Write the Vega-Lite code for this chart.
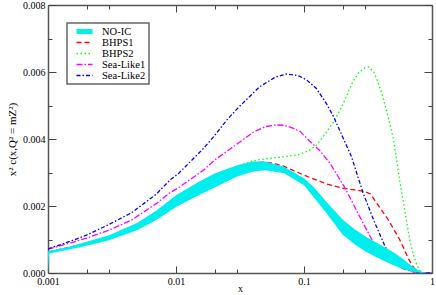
{
  "$schema": "https://vega.github.io/schema/vega-lite/v6.json",
  "width": 384,
  "height": 268,
  "autosize": "none",
  "padding": {"left": 48, "top": 5, "right": 4, "bottom": 22},
  "background": "white",
  "config": {
    "font": "Liberation Serif",
    "view": {"stroke": null},
    "axis": {
      "grid": false,
      "domainColor": "#555",
      "domainWidth": 1.5,
      "tickColor": "#444",
      "tickWidth": 1,
      "labelFont": "Liberation Serif",
      "labelFontSize": 10,
      "labelColor": "black",
      "labelFlush": false,
      "labelOverlap": false,
      "labelBound": false,
      "titleFont": "Liberation Serif",
      "titleFontSize": 10,
      "titleFontWeight": "normal",
      "titleColor": "black"
    },
    "legend": {"strokeWidth": 1.5}
  },
  "datasets": {
    "band": [
      {"x": 0.001, "lo": 0, "hi": 0.00065},
      {"x": 0.00102, "lo": 0.00058, "hi": 0.00066},
      {"x": 0.0015, "lo": 0.00071, "hi": 0.0008},
      {"x": 0.002, "lo": 0.00081, "hi": 0.00093},
      {"x": 0.003, "lo": 0.00098, "hi": 0.00113},
      {"x": 0.005, "lo": 0.00128, "hi": 0.0015},
      {"x": 0.007, "lo": 0.00158, "hi": 0.00186},
      {"x": 0.01, "lo": 0.00197, "hi": 0.00232},
      {"x": 0.015, "lo": 0.00232, "hi": 0.00272},
      {"x": 0.02, "lo": 0.00255, "hi": 0.00297},
      {"x": 0.03, "lo": 0.00288, "hi": 0.00322},
      {"x": 0.04, "lo": 0.00303, "hi": 0.00333},
      {"x": 0.05, "lo": 0.00307, "hi": 0.00333},
      {"x": 0.07, "lo": 0.00298, "hi": 0.00317},
      {"x": 0.1, "lo": 0.00262, "hi": 0.00283},
      {"x": 0.12, "lo": 0.00225, "hi": 0.00255},
      {"x": 0.15, "lo": 0.00178, "hi": 0.00212},
      {"x": 0.2, "lo": 0.00115, "hi": 0.0016},
      {"x": 0.25, "lo": 0.00085, "hi": 0.0013},
      {"x": 0.3, "lo": 0.00065, "hi": 0.0011},
      {"x": 0.4, "lo": 0.0004, "hi": 0.00083},
      {"x": 0.5, "lo": 0.00023, "hi": 0.00062},
      {"x": 0.6, "lo": 0.00011, "hi": 0.0004},
      {"x": 0.7, "lo": 0.00004, "hi": 0.0002},
      {"x": 0.8, "lo": 0.00001, "hi": 0.00006},
      {"x": 0.9, "lo": 0, "hi": 0.00001},
      {"x": 1, "lo": 0, "hi": 0}
    ],
    "curves": [
      {"series": "BHPS1", "x": 0.001, "y": 0.00063},
      {"series": "BHPS1", "x": 0.0015, "y": 0.00077},
      {"series": "BHPS1", "x": 0.002, "y": 0.00089},
      {"series": "BHPS1", "x": 0.003, "y": 0.00108},
      {"series": "BHPS1", "x": 0.005, "y": 0.00143},
      {"series": "BHPS1", "x": 0.007, "y": 0.00176},
      {"series": "BHPS1", "x": 0.01, "y": 0.00222},
      {"series": "BHPS1", "x": 0.015, "y": 0.00263},
      {"series": "BHPS1", "x": 0.02, "y": 0.00288},
      {"series": "BHPS1", "x": 0.03, "y": 0.00317},
      {"series": "BHPS1", "x": 0.04, "y": 0.00329},
      {"series": "BHPS1", "x": 0.05, "y": 0.00331},
      {"series": "BHPS1", "x": 0.06, "y": 0.00326},
      {"series": "BHPS1", "x": 0.07, "y": 0.00318},
      {"series": "BHPS1", "x": 0.1, "y": 0.00292},
      {"series": "BHPS1", "x": 0.15, "y": 0.00266},
      {"series": "BHPS1", "x": 0.2, "y": 0.00253},
      {"series": "BHPS1", "x": 0.25, "y": 0.00248},
      {"series": "BHPS1", "x": 0.3, "y": 0.00243},
      {"series": "BHPS1", "x": 0.33, "y": 0.00236},
      {"series": "BHPS1", "x": 0.36, "y": 0.00215},
      {"series": "BHPS1", "x": 0.4, "y": 0.0019},
      {"series": "BHPS1", "x": 0.45, "y": 0.00162},
      {"series": "BHPS1", "x": 0.5, "y": 0.00132},
      {"series": "BHPS1", "x": 0.55, "y": 0.00105},
      {"series": "BHPS1", "x": 0.6, "y": 0.00075},
      {"series": "BHPS1", "x": 0.65, "y": 0.00045},
      {"series": "BHPS1", "x": 0.7, "y": 0.00022},
      {"series": "BHPS1", "x": 0.75, "y": 0.00008},
      {"series": "BHPS1", "x": 0.8, "y": 0.00002},
      {"series": "BHPS1", "x": 0.9, "y": 0},
      {"series": "BHPS1", "x": 1, "y": 0},
      {"series": "BHPS2", "x": 0.001, "y": 0.00063},
      {"series": "BHPS2", "x": 0.0015, "y": 0.00077},
      {"series": "BHPS2", "x": 0.002, "y": 0.00089},
      {"series": "BHPS2", "x": 0.003, "y": 0.00108},
      {"series": "BHPS2", "x": 0.005, "y": 0.00143},
      {"series": "BHPS2", "x": 0.007, "y": 0.00176},
      {"series": "BHPS2", "x": 0.01, "y": 0.00222},
      {"series": "BHPS2", "x": 0.015, "y": 0.00263},
      {"series": "BHPS2", "x": 0.02, "y": 0.00288},
      {"series": "BHPS2", "x": 0.03, "y": 0.00318},
      {"series": "BHPS2", "x": 0.04, "y": 0.00335},
      {"series": "BHPS2", "x": 0.05, "y": 0.00341},
      {"series": "BHPS2", "x": 0.07, "y": 0.00347},
      {"series": "BHPS2", "x": 0.09, "y": 0.00353},
      {"series": "BHPS2", "x": 0.11, "y": 0.00366},
      {"series": "BHPS2", "x": 0.125, "y": 0.00382},
      {"series": "BHPS2", "x": 0.14, "y": 0.00405},
      {"series": "BHPS2", "x": 0.17, "y": 0.0045},
      {"series": "BHPS2", "x": 0.2, "y": 0.00501},
      {"series": "BHPS2", "x": 0.24, "y": 0.0057},
      {"series": "BHPS2", "x": 0.27, "y": 0.006},
      {"series": "BHPS2", "x": 0.3, "y": 0.00613},
      {"series": "BHPS2", "x": 0.32, "y": 0.00615},
      {"series": "BHPS2", "x": 0.35, "y": 0.006},
      {"series": "BHPS2", "x": 0.37, "y": 0.0058},
      {"series": "BHPS2", "x": 0.41, "y": 0.00531},
      {"series": "BHPS2", "x": 0.45, "y": 0.00472},
      {"series": "BHPS2", "x": 0.5, "y": 0.004},
      {"series": "BHPS2", "x": 0.53, "y": 0.00335},
      {"series": "BHPS2", "x": 0.56, "y": 0.00275},
      {"series": "BHPS2", "x": 0.6, "y": 0.00208},
      {"series": "BHPS2", "x": 0.67, "y": 0.00099},
      {"series": "BHPS2", "x": 0.72, "y": 0.0005},
      {"series": "BHPS2", "x": 0.76, "y": 0.00025},
      {"series": "BHPS2", "x": 0.8, "y": 0.00008},
      {"series": "BHPS2", "x": 0.85, "y": 0.00001},
      {"series": "BHPS2", "x": 1, "y": 0},
      {"series": "Sea-Like1", "x": 0.001, "y": 0.00071},
      {"series": "Sea-Like1", "x": 0.0015, "y": 0.0009},
      {"series": "Sea-Like1", "x": 0.002, "y": 0.00104},
      {"series": "Sea-Like1", "x": 0.003, "y": 0.00128},
      {"series": "Sea-Like1", "x": 0.0045, "y": 0.00158},
      {"series": "Sea-Like1", "x": 0.007, "y": 0.00207},
      {"series": "Sea-Like1", "x": 0.009, "y": 0.0024},
      {"series": "Sea-Like1", "x": 0.0104, "y": 0.00254},
      {"series": "Sea-Like1", "x": 0.0164, "y": 0.00307},
      {"series": "Sea-Like1", "x": 0.02, "y": 0.00337},
      {"series": "Sea-Like1", "x": 0.03, "y": 0.00385},
      {"series": "Sea-Like1", "x": 0.04, "y": 0.0042},
      {"series": "Sea-Like1", "x": 0.05, "y": 0.00437},
      {"series": "Sea-Like1", "x": 0.06, "y": 0.00442},
      {"series": "Sea-Like1", "x": 0.07, "y": 0.00441},
      {"series": "Sea-Like1", "x": 0.08, "y": 0.00434},
      {"series": "Sea-Like1", "x": 0.093, "y": 0.00423},
      {"series": "Sea-Like1", "x": 0.11, "y": 0.00395},
      {"series": "Sea-Like1", "x": 0.133, "y": 0.00365},
      {"series": "Sea-Like1", "x": 0.16, "y": 0.00327},
      {"series": "Sea-Like1", "x": 0.21, "y": 0.00253},
      {"series": "Sea-Like1", "x": 0.26, "y": 0.00183},
      {"series": "Sea-Like1", "x": 0.33, "y": 0.00108},
      {"series": "Sea-Like1", "x": 0.36, "y": 0.00082},
      {"series": "Sea-Like1", "x": 0.4, "y": 0.0006},
      {"series": "Sea-Like1", "x": 0.5, "y": 0.0003},
      {"series": "Sea-Like1", "x": 0.6, "y": 0.00012},
      {"series": "Sea-Like1", "x": 0.7, "y": 0.00004},
      {"series": "Sea-Like1", "x": 0.8, "y": 0.00001},
      {"series": "Sea-Like1", "x": 1, "y": 0},
      {"series": "Sea-Like2", "x": 0.001, "y": 0.00072},
      {"series": "Sea-Like2", "x": 0.0015, "y": 0.00095},
      {"series": "Sea-Like2", "x": 0.002, "y": 0.00113},
      {"series": "Sea-Like2", "x": 0.003, "y": 0.00145},
      {"series": "Sea-Like2", "x": 0.0045, "y": 0.0018},
      {"series": "Sea-Like2", "x": 0.007, "y": 0.00235},
      {"series": "Sea-Like2", "x": 0.009, "y": 0.00278},
      {"series": "Sea-Like2", "x": 0.0104, "y": 0.00296},
      {"series": "Sea-Like2", "x": 0.0137, "y": 0.00342},
      {"series": "Sea-Like2", "x": 0.0164, "y": 0.00372},
      {"series": "Sea-Like2", "x": 0.02, "y": 0.0041},
      {"series": "Sea-Like2", "x": 0.025, "y": 0.00457},
      {"series": "Sea-Like2", "x": 0.03, "y": 0.0049},
      {"series": "Sea-Like2", "x": 0.045, "y": 0.00556},
      {"series": "Sea-Like2", "x": 0.06, "y": 0.00585},
      {"series": "Sea-Like2", "x": 0.073, "y": 0.00594},
      {"series": "Sea-Like2", "x": 0.085, "y": 0.00591},
      {"series": "Sea-Like2", "x": 0.093, "y": 0.00587},
      {"series": "Sea-Like2", "x": 0.105, "y": 0.00576},
      {"series": "Sea-Like2", "x": 0.125, "y": 0.00551},
      {"series": "Sea-Like2", "x": 0.15, "y": 0.00505},
      {"series": "Sea-Like2", "x": 0.17, "y": 0.00467},
      {"series": "Sea-Like2", "x": 0.2, "y": 0.00407},
      {"series": "Sea-Like2", "x": 0.235, "y": 0.00347},
      {"series": "Sea-Like2", "x": 0.29, "y": 0.00238},
      {"series": "Sea-Like2", "x": 0.35, "y": 0.00158},
      {"series": "Sea-Like2", "x": 0.43, "y": 0.00079},
      {"series": "Sea-Like2", "x": 0.5, "y": 0.0004},
      {"series": "Sea-Like2", "x": 0.6, "y": 0.00015},
      {"series": "Sea-Like2", "x": 0.7, "y": 0.00005},
      {"series": "Sea-Like2", "x": 0.8, "y": 0.00001},
      {"series": "Sea-Like2", "x": 1, "y": 0}
    ]
  },
  "layer": [
    {
      "data": {"name": "curves"},
      "mark": {"type": "line", "clip": true},
      "encoding": {
        "x": {"field": "x", "type": "quantitative",
          "scale": {"type": "log", "domain": [0.001, 1], "nice": false},
          "axis": {"orient": "bottom", "values": [0.001, 0.01, 0.1, 1], "format": "~g", "tickSize": -7, "labelPadding": 10, "title": "x", "titlePadding": -3}},
        "y": {"field": "y", "type": "quantitative",
          "scale": {"domain": [0, 0.008], "nice": false, "zero": false},
          "axis": {"orient": "left", "values": [0, 0.002, 0.004, 0.006, 0.008], "format": ".3f", "tickSize": -8, "labelPadding": 11, "title": "x² c(x,Q² = mZ²)", "titleFontSize": 11, "titlePadding": 5}},
        "color": {"field": "series", "type": "nominal",
          "scale": {"domain": ["NO-IC", "BHPS1", "BHPS2", "Sea-Like1", "Sea-Like2"], "range": ["#00eeee", "#ff0000", "#00ff00", "#ff00ff", "#0000ff"]},
          "legend": {"title": null, "orient": "none", "legendX": 19, "legendY": 18, "symbolType": "stroke", "symbolSize": 256, "symbolOffset": 4, "labelFont": "Liberation Serif", "labelFontSize": 10.5, "labelColor": "black", "labelOffset": 7, "strokeColor": "#666", "fillColor": "white", "padding": 3, "rowPadding": 0, "clipHeight": 11}},
        "strokeDash": {"field": "series", "type": "nominal",
          "scale": {"domain": ["NO-IC", "BHPS1", "BHPS2", "Sea-Like1", "Sea-Like2"], "range": [[1, 0], [5, 3], [1.5, 2.5], [6, 2, 1.5, 2], [4, 2, 1.5, 2]]},
          "legend": {"title": null, "orient": "none", "legendX": 19, "legendY": 18, "symbolType": "stroke", "symbolSize": 256, "symbolOffset": 4, "labelFont": "Liberation Serif", "labelFontSize": 10.5, "labelColor": "black", "labelOffset": 7, "strokeColor": "#666", "fillColor": "white", "padding": 3, "rowPadding": 0, "clipHeight": 11}},
        "strokeWidth": {"field": "series", "type": "nominal",
          "scale": {"type": "ordinal", "domain": ["NO-IC", "BHPS1", "BHPS2", "Sea-Like1", "Sea-Like2"], "range": [5, 1.3, 1.3, 1.3, 1.3]},
          "legend": {"title": null, "orient": "none", "legendX": 19, "legendY": 18, "symbolType": "stroke", "symbolSize": 256, "symbolOffset": 4, "labelFont": "Liberation Serif", "labelFontSize": 10.5, "labelColor": "black", "labelOffset": 7, "strokeColor": "#666", "fillColor": "white", "padding": 3, "rowPadding": 0, "clipHeight": 11}}
      }
    },
    {
      "data": {"name": "band"},
      "mark": {"type": "area", "color": "#00eeee", "clip": true},
      "encoding": {
        "x": {"field": "x", "type": "quantitative",
          "scale": {"type": "log", "domain": [0.001, 1], "nice": false},
          "axis": {"orient": "bottom", "values": [0.002, 0.003, 0.02, 0.03, 0.2, 0.3], "labels": false, "domain": false, "tickSize": -4, "title": null}},
        "y": {"field": "lo", "type": "quantitative",
          "scale": {"domain": [0, 0.008], "nice": false, "zero": false},
          "axis": {"orient": "left", "values": [0.001, 0.003, 0.005, 0.007], "labels": false, "domain": false, "tickSize": -4, "title": null}},
        "y2": {"field": "hi"}
      }
    },
    {
      "data": {"name": "band"},
      "mark": {"type": "line", "opacity": 0},
      "encoding": {
        "x": {"field": "x", "type": "quantitative",
          "scale": {"type": "log", "domain": [0.001, 1], "nice": false},
          "axis": {"orient": "top", "values": [0.001, 0.01, 0.1, 1], "labels": false, "tickSize": -7, "title": null}},
        "y": {"field": "hi", "type": "quantitative",
          "scale": {"domain": [0, 0.008], "nice": false, "zero": false},
          "axis": {"orient": "right", "values": [0, 0.002, 0.004, 0.006, 0.008], "labels": false, "tickSize": -8, "title": null}}
      }
    },
    {
      "data": {"name": "band"},
      "mark": {"type": "line", "opacity": 0},
      "encoding": {
        "x": {"field": "x", "type": "quantitative",
          "scale": {"type": "log", "domain": [0.001, 1], "nice": false},
          "axis": {"orient": "top", "values": [0.002, 0.003, 0.02, 0.03, 0.2, 0.3], "labels": false, "domain": false, "tickSize": -4, "title": null}},
        "y": {"field": "hi", "type": "quantitative",
          "scale": {"domain": [0, 0.008], "nice": false, "zero": false},
          "axis": {"orient": "right", "values": [0.001, 0.003, 0.005, 0.007], "labels": false, "domain": false, "tickSize": -4, "title": null}}
      }
    }
  ],
  "resolve": {
    "scale": {"x": "independent", "y": "independent"},
    "axis": {"x": "independent", "y": "independent"}
  }
}
